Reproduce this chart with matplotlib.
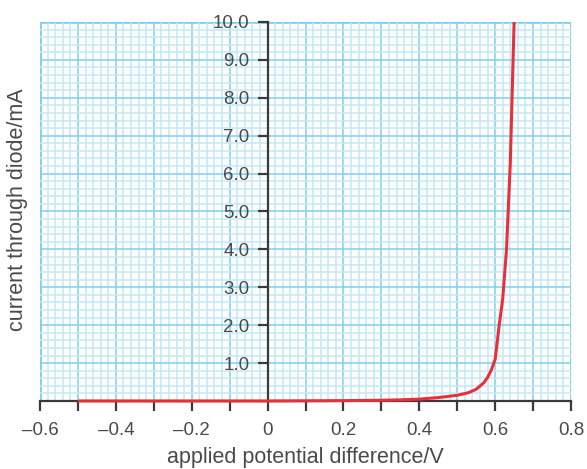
import numpy as np
import matplotlib
matplotlib.use("Agg")
import matplotlib.pyplot as plt
from matplotlib.ticker import MultipleLocator

# diode I-V characteristic
voltage = [-0.5, -0.3, 0.0, 0.2, 0.3, 0.35, 0.4, 0.45, 0.5, 0.53, 0.55,
           0.57, 0.58, 0.59, 0.6, 0.605, 0.61, 0.62, 0.63, 0.64, 0.65]
current = [0.0, 0.0, 0.0, 0.01, 0.02, 0.03, 0.05, 0.09, 0.15, 0.22, 0.31,
           0.48, 0.62, 0.82, 1.1, 1.5, 1.95, 2.7, 4.0, 6.3, 10.0]

x_ticks = [-0.6, -0.5, -0.4, -0.3, -0.2, -0.1, 0.0, 0.1, 0.2, 0.3, 0.4, 0.5, 0.6, 0.7, 0.8]
x_labels = ["\u20130.6", "", "\u20130.4", "", "\u20130.2", "", "0", "", "0.2", "", "0.4", "", "0.6", "", "0.8"]
y_ticks = [1, 2, 3, 4, 5, 6, 7, 8, 9, 10]
y_labels = ["1.0", "2.0", "3.0", "4.0", "5.0", "6.0", "7.0", "8.0", "9.0", "10.0"]

text_col = "#4a4a4a"
plt.rcParams["font.family"] = ["Liberation Sans", "DejaVu Sans"]

fig = plt.figure(figsize=(5.87, 4.69), dpi=100)
ax = fig.add_axes([40 / 587, 1 - 401 / 469, 531 / 587, 379 / 469])

ax.set_xlim(-0.6, 0.8)
ax.set_ylim(0, 10)

# graph-paper grid
ax.xaxis.set_minor_locator(MultipleLocator(0.02))
ax.yaxis.set_minor_locator(MultipleLocator(0.2))
ax.set_xticks(x_ticks)
ax.set_xticklabels(x_labels)
ax.set_yticks(y_ticks)
ax.set_yticklabels(y_labels)
ax.grid(which="minor", color="#c3e8f7", linewidth=1.1)
ax.grid(which="major", color="#80d0ef", linewidth=1.1)
ax.axvline(-0.6, color="#80d0ef", linewidth=2, zorder=0.5)
ax.axhline(10, color="#80d0ef", linewidth=2, zorder=0.5)
ax.axvline(0.8, color="#80d0ef", linewidth=2, zorder=0.5)
ax.set_axisbelow(True)

# y axis through the origin
ax.spines["left"].set_position(("data", 0))
ax.spines["top"].set_visible(False)
ax.spines["right"].set_visible(False)
for s in ["left", "bottom"]:
    ax.spines[s].set_color("#3a3a3a")
    ax.spines[s].set_linewidth(1.6)

ax.tick_params(which="minor", length=0)
ax.tick_params(which="major", direction="out", length=7, width=1.6, color="#3a3a3a",
               labelsize=13.5, labelcolor=text_col)
ax.tick_params(axis="x", pad=8)
ax.tick_params(axis="y", pad=6)

ax.plot(voltage, current, color="#e8303a", linewidth=2.2, zorder=5, clip_on=False,
        solid_capstyle="butt")

fig.text(18 / 587, 1 - 210 / 469, "current through diode/mA", rotation=90,
         ha="center", va="center", fontsize=15.5, color=text_col)
fig.text(305 / 587, 1 - 457 / 469, "applied potential difference/V",
         ha="center", va="center", fontsize=15.5, color=text_col)

fig.savefig("out.png", dpi=100)
